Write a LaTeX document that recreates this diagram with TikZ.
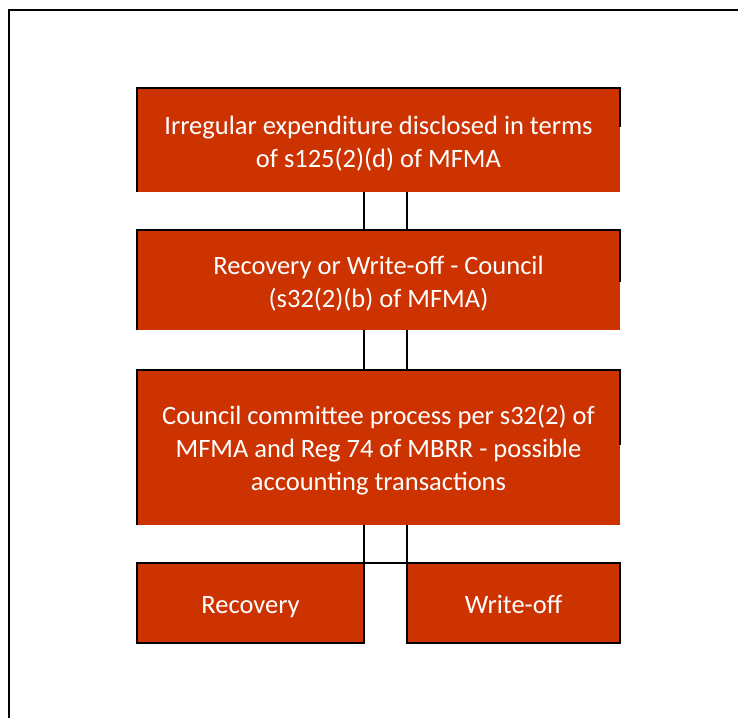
\documentclass[tikz,border=0pt]{standalone}
\usepackage{fontspec}
\setmainfont{Carlito}
\definecolor{boxred}{RGB}{204,51,0}
\begin{document}
\begin{tikzpicture}[x=1pt,y=-1pt,
  flowbox/.style={fill=boxred, draw=none, inner sep=0pt},
  boxtext/.style={text=white, inner sep=0pt, align=center,
    font=\fontsize{26.5}{33}\selectfont},
  edge/.style={draw=black, line width=2pt},
  link/.style={draw=black, line width=1.7pt}]
  \useasboundingbox (0,0) rectangle (738,718);

  % outer frame (top and left sides)
  \draw[line width=2.4pt] (9.2,718) -- (9.2,10) -- (738,10);

  % process boxes
  \node[flowbox, minimum width=483pt, minimum height=104pt] (b1) at (378.5,140) {};
  \node[flowbox, minimum width=483pt, minimum height=100pt] (b2) at (378.5,280) {};
  \node[flowbox, minimum width=483pt, minimum height=155pt] (b3) at (378.5,447.5) {};
  \node[flowbox, minimum width=227pt, minimum height=80pt] (rec) at (250.5,603) {};
  \node[flowbox, minimum width=213pt, minimum height=80pt] (wo) at (513.5,603) {};

  % box texts
  \node[boxtext] (b1t) at (378.5,143.5)
    {Irregular expenditure disclosed in terms\\of s125(2)(d) of MFMA};
  \node[boxtext] (b2t) at (378.5,284)
    {Recovery or Write-off - Council\\(s32(2)(b) of MFMA)};
  \node[boxtext] (b3t) at (378.5,450)
    {Council committee process per s32(2) of\\MFMA and Reg 74 of MBRR - possible\\accounting transactions};
  \node[boxtext, anchor=base] (rect) at (250.5,613) {Recovery};
  \node[boxtext, anchor=base] (wot) at (513.5,613) {Write-off};

  % box outlines
  \draw[edge] (b1.south west) -- (b1.north west) -- (b1.north east) -- ([yshift=-39pt]b1.north east);
  \draw[edge] (b2.south west) -- (b2.north west) -- (b2.north east) -- ([yshift=-52pt]b2.north east);
  \draw[edge] (b3.south west) -- (b3.north west) -- (b3.north east) -- ([yshift=-75pt]b3.north east);
  \draw[edge] (rec.south west) rectangle (rec.north east);
  \draw[edge] (wo.south west) rectangle (wo.north east);
  \draw[edge] (rec.north east) -- (wo.north west);

  % double connectors between the stages
  \draw[link] (b1.south -| rec.east) -- (b2.north -| rec.east);
  \draw[link] (b1.south -| wo.west) -- (b2.north -| wo.west);
  \draw[link] (b2.south -| rec.east) -- (b3.north -| rec.east);
  \draw[link] (b2.south -| wo.west) -- (b3.north -| wo.west);
  \draw[link] (b3.south -| rec.east) -- (rec.north east);
  \draw[link] (b3.south -| wo.west) -- (wo.north west);
\end{tikzpicture}
\end{document}
